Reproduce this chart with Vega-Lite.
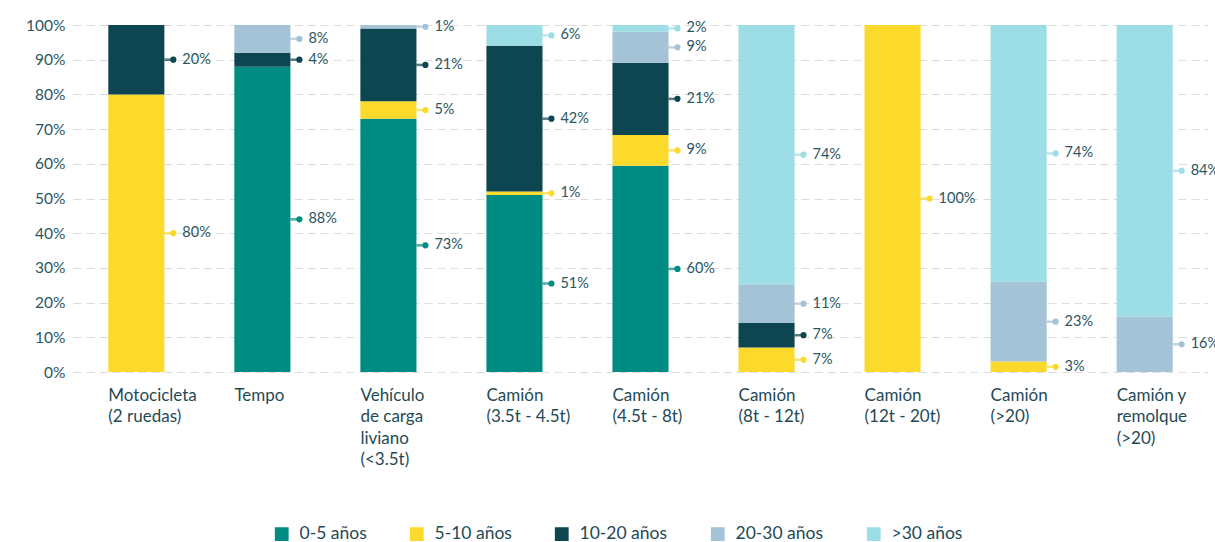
{
  "$schema": "https://vega.github.io/schema/vega-lite/v6.json",
  "autosize": {"type": "none"},
  "width": 1135,
  "height": 347,
  "padding": {"left": 73, "top": 25, "right": 7, "bottom": 170},
  "background": "white",
  "config": {
    "view": {"stroke": null},
    "font": "Lato",
    "axis": {"labelFont": "Lato", "labelColor": "#24505b"},
    "legend": {"labelFont": "Lato"}
  },
  "data": {
    "values": [
      {"vehiculo": "Motocicleta|(2 ruedas)", "edad": "5-10 años", "k": 2, "pct": 80},
      {"vehiculo": "Motocicleta|(2 ruedas)", "edad": "10-20 años", "k": 3, "pct": 20},
      {"vehiculo": "Tempo", "edad": "0-5 años", "k": 1, "pct": 88},
      {"vehiculo": "Tempo", "edad": "10-20 años", "k": 3, "pct": 4},
      {"vehiculo": "Tempo", "edad": "20-30 años", "k": 4, "pct": 8},
      {"vehiculo": "Vehículo|de carga|liviano|(<3.5t)", "edad": "0-5 años", "k": 1, "pct": 73},
      {"vehiculo": "Vehículo|de carga|liviano|(<3.5t)", "edad": "5-10 años", "k": 2, "pct": 5},
      {"vehiculo": "Vehículo|de carga|liviano|(<3.5t)", "edad": "10-20 años", "k": 3, "pct": 21},
      {"vehiculo": "Vehículo|de carga|liviano|(<3.5t)", "edad": "20-30 años", "k": 4, "pct": 1},
      {"vehiculo": "Camión|(3.5t - 4.5t)", "edad": "0-5 años", "k": 1, "pct": 51},
      {"vehiculo": "Camión|(3.5t - 4.5t)", "edad": "5-10 años", "k": 2, "pct": 1},
      {"vehiculo": "Camión|(3.5t - 4.5t)", "edad": "10-20 años", "k": 3, "pct": 42},
      {"vehiculo": "Camión|(3.5t - 4.5t)", "edad": ">30 años", "k": 5, "pct": 6},
      {"vehiculo": "Camión|(4.5t - 8t)", "edad": "0-5 años", "k": 1, "pct": 60},
      {"vehiculo": "Camión|(4.5t - 8t)", "edad": "5-10 años", "k": 2, "pct": 9},
      {"vehiculo": "Camión|(4.5t - 8t)", "edad": "10-20 años", "k": 3, "pct": 21},
      {"vehiculo": "Camión|(4.5t - 8t)", "edad": "20-30 años", "k": 4, "pct": 9},
      {"vehiculo": "Camión|(4.5t - 8t)", "edad": ">30 años", "k": 5, "pct": 2},
      {"vehiculo": "Camión|(8t - 12t)", "edad": "5-10 años", "k": 2, "pct": 7},
      {"vehiculo": "Camión|(8t - 12t)", "edad": "10-20 años", "k": 3, "pct": 7},
      {"vehiculo": "Camión|(8t - 12t)", "edad": "20-30 años", "k": 4, "pct": 11},
      {"vehiculo": "Camión|(8t - 12t)", "edad": ">30 años", "k": 5, "pct": 74},
      {"vehiculo": "Camión|(12t - 20t)", "edad": "5-10 años", "k": 2, "pct": 100},
      {"vehiculo": "Camión|(>20)", "edad": "5-10 años", "k": 2, "pct": 3},
      {"vehiculo": "Camión|(>20)", "edad": "20-30 años", "k": 4, "pct": 23},
      {"vehiculo": "Camión|(>20)", "edad": ">30 años", "k": 5, "pct": 74},
      {"vehiculo": "Camión y|remolque|(>20)", "edad": "20-30 años", "k": 4, "pct": 16},
      {"vehiculo": "Camión y|remolque|(>20)", "edad": ">30 años", "k": 5, "pct": 84}
    ]
  },
  "transform": [
    {"stack": "pct", "groupby": ["vehiculo"], "offset": "normalize", "sort": [{"field": "k", "order": "ascending"}], "as": ["y0", "y1"]},
    {"calculate": "(datum.y0 + datum.y1) / 2", "as": "mid"},
    {"calculate": "datum.pct + '%'", "as": "etiqueta"}
  ],
  "encoding": {
    "x": {
      "field": "vehiculo",
      "type": "nominal",
      "sort": null,
      "title": null,
      "scale": {"paddingInner": 0.555, "paddingOuter": 0.28},
      "axis": {
        "labelExpr": "split(datum.value, '|')",
        "labelAngle": 0,
        "labelAlign": "left",
        "labelBaseline": "top",
        "labelOffset": -28,
        "labelPadding": 15,
        "labelFontSize": 17,
        "labelLineHeight": 21.5,
        "labelColor": "#1f4a55",
        "domain": false,
        "ticks": false,
        "grid": false
      }
    }
  },
  "layer": [
    {
      "mark": {"type": "bar"},
      "encoding": {
        "y": {
          "field": "y0",
          "type": "quantitative",
          "title": null,
          "scale": {"domain": [0, 1], "nice": false},
          "axis": {
            "values": [0, 0.1, 0.2, 0.3, 0.4, 0.5, 0.6, 0.7, 0.8, 0.9, 1],
            "labelExpr": "round(datum.value * 100) + '%'",
            "labelOverlap": false,
            "labelFontSize": 15.5,
            "labelPadding": 8,
            "labelColor": "#2a5561",
            "domain": false,
            "ticks": false,
            "grid": true,
            "gridColor": "#dcdcdc",
            "gridDash": [8, 5],
            "gridWidth": 1.2
          }
        },
        "y2": {"field": "y1"},
        "color": {
          "field": "edad",
          "type": "nominal",
          "title": null,
          "scale": {
            "domain": ["0-5 años", "5-10 años", "10-20 años", "20-30 años", ">30 años"],
            "range": ["#008c82", "#fbda2c", "#0d4650", "#a4c3d6", "#9cdde6"]
          },
          "legend": {
            "orient": "none",
            "direction": "horizontal",
            "legendX": 200,
            "legendY": 500,
            "symbolType": "square",
            "symbolSize": 190,
            "symbolStrokeWidth": 0,
            "labelFontSize": 17.5,
            "labelColor": "#1f4a55",
            "labelOffset": 9,
            "labelLimit": 300,
            "columnPadding": 41
          }
        }
      }
    },
    {
      "mark": {"type": "tick", "orient": "horizontal", "size": 10, "thickness": 2.5, "xOffset": 33},
      "encoding": {
        "y": {
          "field": "mid",
          "type": "quantitative",
          "title": null,
          "axis": {
            "values": [0, 0.1, 0.2, 0.3, 0.4, 0.5, 0.6, 0.7, 0.8, 0.9, 1],
            "labelExpr": "round(datum.value * 100) + '%'",
            "labelOverlap": false,
            "labelFontSize": 15.5,
            "labelPadding": 8,
            "labelColor": "#2a5561",
            "domain": false,
            "ticks": false,
            "grid": true,
            "gridColor": "#dcdcdc",
            "gridDash": [8, 5],
            "gridWidth": 1.2
          }
        },
        "color": {"field": "edad", "type": "nominal", "legend": null}
      }
    },
    {
      "mark": {"type": "point", "filled": true, "size": 38, "opacity": 1, "xOffset": 37},
      "encoding": {
        "y": {
          "field": "mid",
          "type": "quantitative",
          "title": null,
          "axis": {
            "values": [0, 0.1, 0.2, 0.3, 0.4, 0.5, 0.6, 0.7, 0.8, 0.9, 1],
            "labelExpr": "round(datum.value * 100) + '%'",
            "labelOverlap": false,
            "labelFontSize": 15.5,
            "labelPadding": 8,
            "labelColor": "#2a5561",
            "domain": false,
            "ticks": false,
            "grid": true,
            "gridColor": "#dcdcdc",
            "gridDash": [8, 5],
            "gridWidth": 1.2
          }
        },
        "color": {"field": "edad", "type": "nominal", "legend": null}
      }
    },
    {
      "mark": {"type": "text", "align": "left", "baseline": "middle", "xOffset": 46, "fontSize": 14.5, "color": "#2a5561"},
      "encoding": {
        "y": {
          "field": "mid",
          "type": "quantitative",
          "title": null,
          "axis": {
            "values": [0, 0.1, 0.2, 0.3, 0.4, 0.5, 0.6, 0.7, 0.8, 0.9, 1],
            "labelExpr": "round(datum.value * 100) + '%'",
            "labelOverlap": false,
            "labelFontSize": 15.5,
            "labelPadding": 8,
            "labelColor": "#2a5561",
            "domain": false,
            "ticks": false,
            "grid": true,
            "gridColor": "#dcdcdc",
            "gridDash": [8, 5],
            "gridWidth": 1.2
          }
        },
        "text": {"field": "etiqueta", "type": "nominal"}
      }
    }
  ]
}
